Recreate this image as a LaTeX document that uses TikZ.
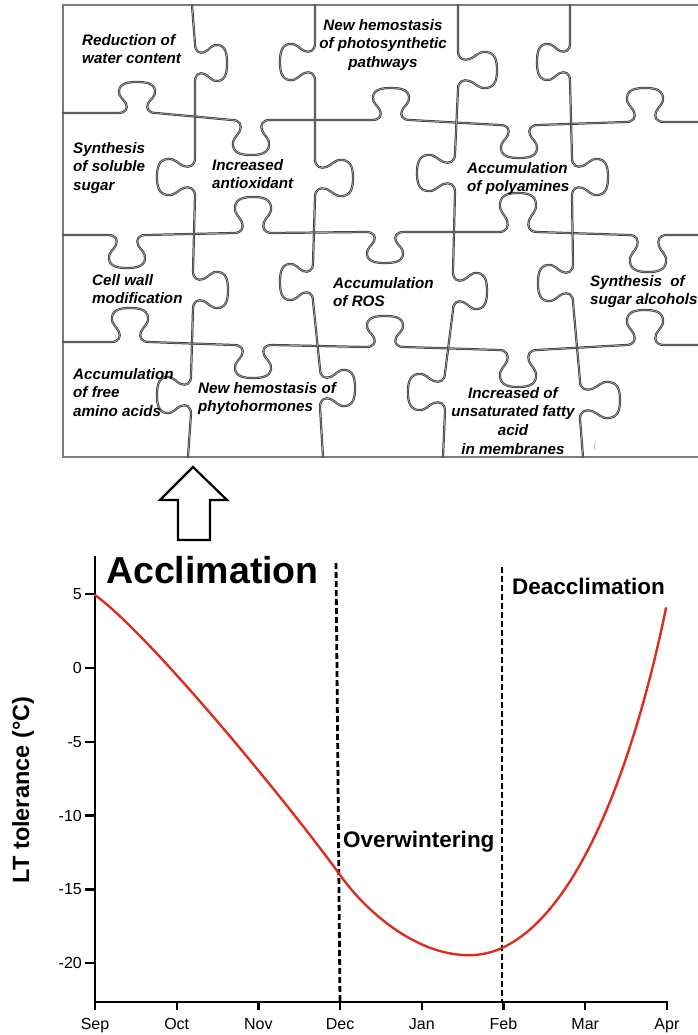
\documentclass[tikz,border=0pt]{standalone}
\usepackage{fontspec}
\setmainfont{Liberation Sans}
\definecolor{curvered}{RGB}{222,45,30}
\definecolor{frame}{RGB}{125,125,125}
\begin{document}
\begin{tikzpicture}[x=1pt,y=-1pt,
  pz/.style={draw=black!78, line width=0.75pt, double=black!35, double distance=0.7pt, line join=round, line cap=round},
  hk/.style n args={3}{insert path={-- ({#1-19},{#2}) .. controls ({#1-11},{#2}) and ({#1-9},{#2+0.15*(#3)}) .. ({#1-11},{#2+0.3*(#3)}) .. controls ({#1-13},{#2+0.45*(#3)}) and ({#1-19},{#2+0.52*(#3)}) .. ({#1-18},{#2+0.73*(#3)}) .. controls ({#1-17},{#2+0.97*(#3)}) and ({#1-8},{#2+(#3)}) .. ({#1},{#2+(#3)}) .. controls ({#1+8},{#2+(#3)}) and ({#1+17},{#2+0.97*(#3)}) .. ({#1+18},{#2+0.73*(#3)}) .. controls ({#1+19},{#2+0.52*(#3)}) and ({#1+13},{#2+0.45*(#3)}) .. ({#1+11},{#2+0.3*(#3)}) .. controls ({#1+9},{#2+0.15*(#3)}) and ({#1+11},{#2}) .. ({#1+19},{#2})}},
  vk/.style n args={3}{insert path={-- ({#2},{#1-19}) .. controls ({#2},{#1-11}) and ({#2+0.15*(#3)},{#1-9}) .. ({#2+0.3*(#3)},{#1-11}) .. controls ({#2+0.45*(#3)},{#1-13}) and ({#2+0.52*(#3)},{#1-19}) .. ({#2+0.73*(#3)},{#1-18}) .. controls ({#2+0.97*(#3)},{#1-17}) and ({#2+(#3)},{#1-8}) .. ({#2+(#3)},{#1}) .. controls ({#2+(#3)},{#1+8}) and ({#2+0.97*(#3)},{#1+17}) .. ({#2+0.73*(#3)},{#1+18}) .. controls ({#2+0.52*(#3)},{#1+19}) and ({#2+0.45*(#3)},{#1+13}) .. ({#2+0.3*(#3)},{#1+11}) .. controls ({#2+0.15*(#3)},{#1+9}) and ({#2},{#1+11}) .. ({#2},{#1+19})}},
  ptl/.style={font=\fontsize{15.2}{18.6}\selectfont\bfseries\itshape, inner sep=0pt, align=left, anchor=north west},
  ptc/.style={font=\fontsize{15.2}{18.6}\selectfont\bfseries\itshape, inner sep=0pt, align=center, anchor=north},
  axis/.style={line width=2.8pt, line cap=rect},
  tick/.style={line width=2.4pt},
  ticklab/.style={font=\fontsize{16}{18}\selectfont, inner sep=0pt},
  phase/.style={line width=2.8pt, dash pattern=on 6pt off 3pt},
  bigarrow/.style={line width=2.2pt, line join=miter, fill=white}
]
\useasboundingbox (0,0) rectangle (698,1035);

% ---------- puzzle frame ----------
\draw[draw=frame, line width=2pt] (698,5) -- (63,5) -- (63,457) -- (698,457);

% horizontal puzzle lines
\draw[pz] (63,113) [hk={137}{113}{-31}] [hk={251}{120}{35}] [hk={391}{120}{-32}] [hk={519}{125}{33}] [hk={645}{122}{-34}] -- (698,122);
\draw[pz] (63,235) [hk={127}{235}{33}] [hk={253}{233}{-36}] [hk={385}{232}{31}] [hk={518}{232}{-39}] [hk={648}{235}{37}] -- (698,235);
\draw[pz] (63,342) [hk={130}{342}{-34}] [hk={253}{345}{33}] [hk={385}{347}{-31}] [hk={518}{350}{37}] [hk={645}{345}{-35}] -- (698,345);

% vertical puzzle lines
\draw[pz] (192,5) [vk={63}{195}{32}] [vk={177}{195}{-38}] [vk={290}{193}{35}] [vk={395}{191}{-34}] -- (188,457);
\draw[pz] (315,5) [vk={62}{315}{-35}] [vk={178}{315}{38}] [vk={282}{313}{-33}] [vk={388}{320}{35}] -- (323,457);
\draw[pz] (458,5) [vk={70}{458}{39}] [vk={173}{455}{-38}] [vk={291}{453}{34}] [vk={392}{445}{-37}] -- (443,457);
\draw[pz] (570,5) [vk={62}{570}{-33}] [vk={177}{572}{36}] [vk={283}{573}{-35}] [vk={400}{580}{40}] -- (583,457);

% puzzle texts
\node[ptl] (t1) at (82,34) {Reduction of\\water content};
\node[ptc] (t2) at (383,19) {New hemostasis\\of photosynthetic\\pathways};
\node[ptl] (t3) at (73,142) {Synthesis\\of soluble\\sugar};
\node[ptl] (t4) at (212,159) {Increased\\antioxidant};
\node[ptl] (t5) at (467,162) {Accumulation\\of polyamines};
\node[ptl] (t6) at (92,274) {Cell wall\\modification};
\node[ptl] (t7) at (333,277) {Accumulation\\of ROS};
\node[ptl] (t8) at (590,275) {Synthesis\ \ of\\sugar alcohols};
\node[ptl] (t9) at (73,368) {Accumulation\\of free\\amino acids};
\node[ptl] (t10) at (198,382) {New hemostasis of\\phytohormones};
\node[ptc] (t11) at (513,387) {Increased of\\unsaturated fatty\\acid\\in membranes};
\node[font=\fontsize{7}{8}\selectfont, text=black!45, inner sep=0pt] (mark) at (595,447) {(};

% ---------- hollow arrow ----------
\draw[bigarrow] (178,540) -- (178,500) -- (160,500) -- (193,467) -- (227,500) -- (210,500) -- (210,540) -- cycle;

% ---------- chart ----------
\draw[axis] (95,557) -- (95,1002) -- (667,1002);

\foreach \m [count=\i from 0] in {Sep,Oct,Nov,Dec,Jan,Feb,Mar,Apr}{
  \draw[tick] ({95+81.7*\i},1002) -- ({95+81.7*\i},1010);
  \node[ticklab, anchor=north] (m\i) at ({95+81.7*\i},1018) {\m};
}
\foreach \v [count=\j] in {5,0,-5,-10,-15,-20}{
  \draw[tick] (85,{668-14.76*(\v)}) -- (95,{668-14.76*(\v)});
  \node[ticklab, anchor=east] (v\j) at (82,{668-14.76*(\v)}) {\v};
}

\node[font=\fontsize{23.5}{26}\selectfont\bfseries, rotate=90, inner sep=0pt] (ylab) at (23,790) {LT tolerance (°C)};

% phase boundaries
\coordinate (decTop) at (336,563);
\coordinate (decBot) at (340,1002);
\coordinate (febTop) at (502,567);
\coordinate (febBot) at (502,1002);
\draw[phase] (decTop) -- (decBot);
\draw[phase] (febTop) -- (febBot);

\node[font=\fontsize{37.5}{40}\selectfont\bfseries, inner sep=0pt, anchor=base west] (accl) at (106,583) {Acclimation};
\node[font=\fontsize{22.5}{24}\selectfont\bfseries, inner sep=0pt, anchor=base west] (deac) at (512,594) {Deacclimation};
\node[font=\fontsize{22.5}{24}\selectfont\bfseries, inner sep=0pt, anchor=base west] (overw) at (343,847) {Overwintering};

% LT curve
\coordinate (cSep) at (95,595);
\coordinate (cDec) at (340,875);
\coordinate (cFeb) at (502,948);
\coordinate (cApr) at (666,608);
\draw[curvered, line width=2.4pt, line cap=round]
  (cSep) .. controls (150,635) and (288,803) .. (cDec)
         .. controls (382,933) and (450,972) .. (cFeb)
         .. controls (590,907) and (642,725) .. (cApr);

\end{tikzpicture}
\end{document}
